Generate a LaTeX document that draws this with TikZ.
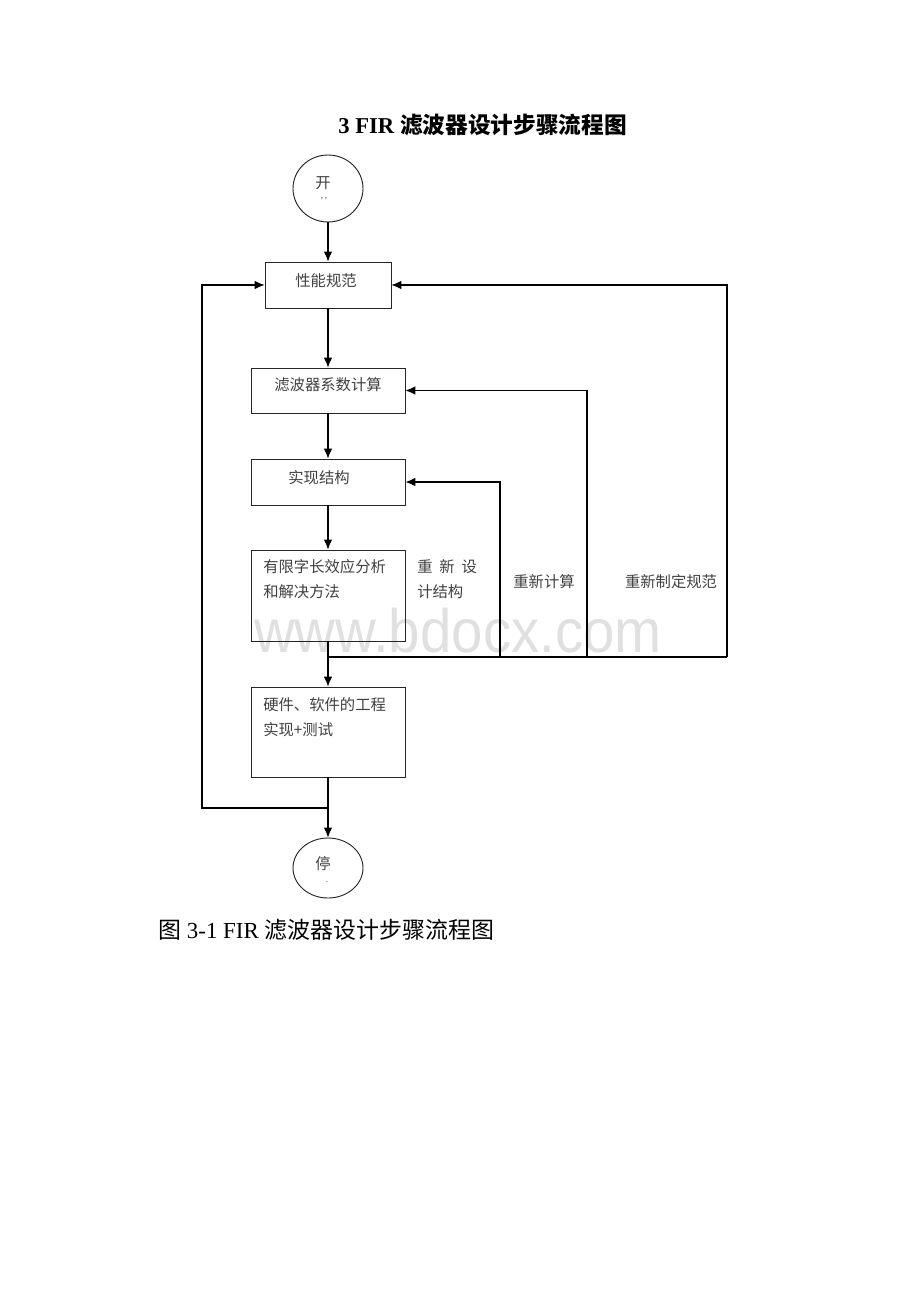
\documentclass[tikz,border=0pt]{standalone}
\usepackage{fontspec}
\setmainfont{Liberation Serif}
\newfontfamily\cjk{Noto Sans CJK SC}
\newfontfamily\wmfont{Liberation Sans}
\usetikzlibrary{shapes.geometric,arrows.meta}
\begin{document}
\begin{tikzpicture}[x=0.75pt,y=-0.75pt,
  box/.style 2 args={draw=black!85, line width=0.7pt, inner sep=0pt,
    minimum width=#1*0.75pt, minimum height=#2*0.75pt},
  term/.style 2 args={ellipse, draw=black!85, line width=0.7pt, inner sep=0pt,
    minimum width=#1*0.75pt, minimum height=#2*0.75pt},
  txt/.style={font=\cjk\fontsize{11.5pt}{18.75pt}\selectfont, text=black!75, inner sep=0pt},
  conn/.style={line width=0.9pt, black},
  arr/.style={conn, -{Latex[length=7.5pt,width=6.5pt]}}]
\useasboundingbox (0,0) rectangle (920,1302);

% watermark
\node[font=\wmfont\fontsize{46pt}{46pt}\selectfont, text=black!12, inner sep=0pt] (wm) at (458,630.5) {\scalebox{0.92}[1]{www.bdocx.com}};

% title
\node[font=\bfseries\fontsize{17pt}{20pt}\selectfont, inner sep=0pt] (title) at (482.5,125) {3 FIR {\cjk\bfseries 滤波器设计步骤流程图}};

% terminals
\node[term={70}{67}] (start) at (328,188.5) {};
\node[txt] (startt) at (323,183) {开};
\node[font=\fontsize{7pt}{7pt}\selectfont, text=black!70, inner sep=0pt] (startd) at (324,199) {,\,,};

\node[term={70}{60}] (stop) at (328,868) {};
\node[txt] (stopt) at (323,864) {停};
\node[font=\fontsize{7pt}{7pt}\selectfont, text=black!70, inner sep=0pt] (stopd) at (327,882) {.};

% boxes
\node[box={126}{46}] (b1) at (328,285) {};
\node[box={154}{45}] (b2) at (328,390.5) {};
\node[box={154}{46}] (b3) at (328,482) {};
\node[box={154}{91}] (b4) at (328,595.5) {};
\node[box={154}{90}] (b5) at (328,732) {};

\node[txt] (t1) at (326,281) {性能规范};
\node[txt] (t2) at (328,385) {滤波器系数计算};
\node[txt] (t3) at (319,478) {实现结构};
\node[txt, anchor=west, align=left] (t4) at (263,579.5) {有限字长效应分析\\和解决方法};
\node[txt, anchor=west, align=left] (t5) at (263,717) {硬件、软件的工程\\实现+测试};

% labels
\node[txt, anchor=west, align=left] (l1) at (417,579.5) {重\hspace{0.45em}新\hspace{0.45em}设\\计结构};
\node[txt] (l2) at (544,582) {重新计算};
\node[txt] (l3) at (671,582) {重新制定规范};

% main flow
\draw[arr] (start) -- (b1);
\draw[arr] (b1) -- (b2);
\draw[arr] (b2) -- (b3);
\draw[arr] (b3) -- (b4);
\draw[arr] (b4) -- (b5);
\draw[arr] (b5) -- (stop);

% feedback loops
\coordinate (j) at (328,657);
\coordinate (r1) at (500,657);
\coordinate (r2) at (587,657);
\coordinate (r3) at (727,657);
\draw[conn] (j) -- (r3);
\draw[arr] (r1) |- (b3);
\draw[arr] (r2) |- (b2);
\draw[arr] (r3) |- (b1);

\coordinate (l0) at (328,808);
\coordinate (lc) at (202,808);
\draw[arr] (l0) -- (lc) |- (b1);

% caption
\node[font=\fontsize{17.2pt}{20pt}\selectfont, anchor=west, inner sep=0pt] (cap) at (158,930) {{\cjk 图} 3-1 FIR {\cjk 滤波器设计步骤流程图}};
\end{tikzpicture}
\end{document}
